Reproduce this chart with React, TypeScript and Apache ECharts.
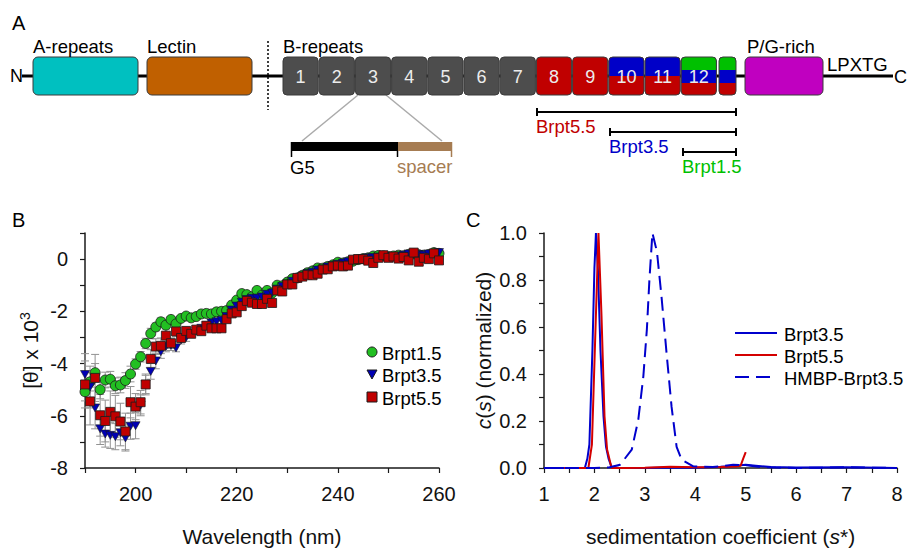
import React, { useEffect, useRef } from "react";
import * as echarts from "echarts";

// ---------- Panel B data (CD spectra) ----------
const wavelength = [
  190, 191, 192, 193, 194, 195, 196, 197, 198, 199, 200, 201, 202, 203, 204, 205, 206, 207, 208, 209,
  210, 211, 212, 213, 214, 215, 216, 217, 218, 219, 220, 221, 222, 223, 224, 225, 226, 227, 228, 229,
  230, 231, 232, 233, 234, 235, 236, 237, 238, 239, 240, 241, 242, 243, 244, 245, 246, 247, 248, 249,
  250, 251, 252, 253, 254, 255, 256, 257, 258, 259, 260,
];
const brpt15 = [
  -5.08, -4.7, -4.35, -5.0, -4.63, -4.6, -4.85, -4.82, -4.65, -4.4, -4.02, -3.74, -3.23, -2.85, -2.6, -2.4, -2.53, -2.31, -2.48, -2.27,
  -2.18, -2.25, -2.2, -2.1, -2.08, -2.1, -2.02, -2.0, -1.97, -1.76, -1.57, -1.32, -1.36, -1.44, -1.2, -1.38, -1.2, -1.3, -1.0, -1.02,
  -0.88, -0.75, -0.72, -0.62, -0.52, -0.45, -0.34, -0.35, -0.28, -0.22, -0.12, -0.15, -0.1, -0.08, -0.02, 0.02, 0.05, 0.12, 0.14, 0.12,
  0.1, 0.12, 0.15, 0.13, 0.18, 0.2, 0.17, 0.15, 0.18, 0.25, 0.22,
];
const brpt35 = [
  -4.42, -4.9, -5.7, -6.5, -6.7, -6.75, -6.8, -6.65, -6.85, -6.4, -6.38, -5.6, -4.8, -4.3, -3.9, -3.55, -3.35, -3.3, -3.4, -3.1,
  -3.0, -2.85, -2.75, -2.65, -2.55, -2.45, -2.4, -2.35, -2.2, -1.95, -1.8, -1.65, -1.55, -1.5, -1.5, -1.45, -1.35, -1.3, -1.15, -1.05,
  -0.95, -0.85, -0.75, -0.65, -0.55, -0.5, -0.42, -0.38, -0.3, -0.25, -0.2, -0.15, -0.1, -0.05, 0.0, 0.02, 0.05, 0.05, 0.08, 0.1,
  0.1, 0.1, 0.12, 0.15, 0.2, 0.2, 0.18, 0.15, 0.2, 0.22, 0.25,
];
const brpt55 = [
  -4.8, -5.45, -4.55, -5.98, -6.2, -5.85, -6.02, -6.22, -6.6, -5.48, -5.65, -5.48, -4.8, -3.82, -3.35, -3.32, -2.93, -3.22, -2.77, -3.02,
  -2.75, -2.86, -2.7, -2.76, -2.55, -2.65, -2.65, -2.65, -2.3, -2.08, -2.04, -1.8, -1.6, -1.67, -1.72, -1.72, -1.52, -1.68, -1.2, -1.24,
  -0.97, -0.97, -0.72, -0.67, -0.6, -0.62, -0.56, -0.4, -0.39, -0.28, -0.25, -0.28, -0.25, -0.02, 0.0, 0.0, -0.06, -0.15, 0.05, 0.15,
  0.05, 0.1, 0.02, 0.08, -0.05, 0.25, -0.1, 0.05, 0.0, 0.22, -0.05,
];
// error bars for the first wavelengths (190 … 213 nm)
const errBrpt15 = [0.35, 0.35, 0.35, 0.35, 0.3, 0.3, 0.3, 0.3, 0.3, 0.3, 0.2, 0.2, 0.2, 0.2, 0.15, 0.15, 0.1, 0.1, 0.1, 0.1, 0.1, 0.1, 0.1, 0.1];
const errBrpt35 = [0.8, 0.8, 0.8, 0.6, 0.5, 0.5, 0.5, 0.5, 0.5, 0.5, 0.5, 0.4, 0.35, 0.3, 0.3, 0.25, 0.2, 0.2, 0.15, 0.15, 0.15, 0.1, 0.1, 0.1];
const errBrpt55 = [0.9, 0.9, 0.9, 0.8, 0.8, 0.8, 0.8, 0.7, 0.7, 0.6, 0.5, 0.45, 0.4, 0.35, 0.3, 0.3, 0.25, 0.2, 0.2, 0.15, 0.15, 0.1, 0.1, 0.1];

// ---------- Panel C data (sedimentation) ----------
const sBrpt35 = [1, 1.5, 1.81, 1.86, 1.9, 1.96, 2.0, 2.03, 2.07, 2.12, 2.18, 2.23, 2.28, 2.34, 2.5, 3, 3.5, 4, 4.5, 4.8, 5.0, 5.2, 5.5, 6, 7, 8];
const cBrpt35 = [0, 0, 0, 0.04, 0.1, 0.5, 0.85, 1.0, 0.84, 0.5, 0.22, 0.09, 0.04, 0.004, 0, 0, 0.002, 0.001, 0.005, 0.01, 0.014, 0.01, 0.004, 0.002, 0.003, 0];
const sBrpt55 = [1.4, 1.8, 1.88, 1.95, 2.08, 2.14, 2.2, 2.25, 2.34, 2.6, 3.0, 3.5, 4.0, 4.5, 4.8, 4.9, 4.95, 5.0];
const cBrpt55 = [0, 0, 0, 0.1, 1.0, 0.65, 0.22, 0.08, 0, 0, 0.001, 0.005, 0.003, 0.004, 0.006, 0.01, 0.04, 0.068];
const sHmbp = [1, 2, 2.3, 2.51, 2.74, 2.87, 2.97, 3.04, 3.09, 3.15, 3.24, 3.33, 3.43, 3.53, 3.63, 3.73, 3.96, 4.35, 4.75, 5.02, 5.3, 5.6, 6, 7, 8];
const cHmbp = [0, 0, 0.003, 0.014, 0.078, 0.206, 0.39, 0.59, 0.8, 1.0, 0.92, 0.73, 0.49, 0.26, 0.09, 0.035, 0.007, 0.004, 0.014, 0.012, 0.004, 0.002, 0, 0.003, 0];

// ---------- Panel A labels ----------
const repeatNumbers = ["1", "2", "3", "4", "5", "6", "7", "8", "9", "10", "11", "12"];
const constructNames = ["Brpt5.5", "Brpt3.5", "Brpt1.5"];

const FONT = "'Liberation Sans', Arial, Helvetica, sans-serif";
const GREEN = "#22bf22";
const BLUE_M = "#0000b4";
const RED_M = "#c00000";
const C_BLUE = "#0000cd";
const C_RED = "#d40000";

function txt(text: string, x: number, y: number, size: number, fill = "#000", align = "left", extra: any = {}) {
  return {
    type: "text",
    z: 50,
    style: {
      text,
      x,
      y,
      fontSize: size,
      fontFamily: FONT,
      fill,
      textAlign: align,
      align,
      textVerticalAlign: "middle",
      verticalAlign: "middle",
      ...extra,
    },
  };
}
function ln(x1: number, y1: number, x2: number, y2: number, stroke = "#000", lineWidth = 1, extra: any = {}) {
  return { type: "line", z: 40, shape: { x1, y1, x2, y2 }, style: { stroke, lineWidth, ...extra } };
}
function rc(x: number, y: number, w: number, h: number, fill: string, r: any = 0, stroke: any = null, z = 41) {
  return { type: "rect", z, shape: { x, y, width: w, height: h, r }, style: { fill, stroke, lineWidth: stroke ? 1 : 0 } };
}

function buildPanelA() {
  const els: any[] = [];
  const top = 57, h = 38, mid = 76;
  els.push(txt("A", 12, 23, 20));
  // backbone
  els.push(ln(22, mid, 893, mid, "#000", 3));
  els.push(txt("N", 10, mid, 18));
  els.push(txt("C", 894, mid + 1, 18));
  // A-repeats, Lectin, P/G-rich
  const outline = "#3a3a3a";
  els.push(rc(33, top, 105, h, "#00c0c0", 5, outline));
  els.push(rc(147, top, 105, h, "#c06000", 5, outline));
  els.push(rc(745, top, 78, h, "#c000c0", 5, outline));
  els.push(txt("A-repeats", 33, 46, 18.5));
  els.push(txt("Lectin", 147, 46, 18.5));
  els.push(txt("B-repeats", 283, 46, 18.5));
  els.push(txt("P/G-rich", 747, 46, 18.5));
  els.push(txt("LPXTG", 827, 64, 18.5));
  // dotted separator
  els.push(ln(268, 41, 268, 110, "#000", 1.5, { lineDash: [2, 2] }));
  // B repeats
  const pitch = 36.2, bw = 35.2, x0 = 283;
  const boxes: { x: number; w: number; label: string; kind: string }[] = [];
  repeatNumbers.forEach((lab, i) => {
    const n = i + 1;
    const kind = n <= 7 ? "grey" : n <= 9 ? "red" : n <= 11 ? "blueRed" : "gbr";
    boxes.push({ x: x0 + i * pitch, w: bw, label: lab, kind });
  });
  boxes.push({ x: 719, w: 17, label: "", kind: "gbr" });
  boxes.forEach((b) => {
    const r = 4;
    if (b.kind === "grey") {
      els.push(rc(b.x, top, b.w, h, "#4d4d4d", r, outline));
    } else {
      els.push(rc(b.x, top, b.w, h, "#c00000", r, null));
      if (b.kind === "blueRed") {
        els.push(rc(b.x, top, b.w, mid - top, "#0000c8", [r, r, 0, 0], null, 42));
      } else if (b.kind === "gbr") {
        els.push(rc(b.x, top, b.w, 83 - top, "#0000c8", [r, r, 0, 0], null, 42));
        els.push(rc(b.x, top, b.w, 70 - top, "#00c000", [r, r, 0, 0], null, 43));
      }
      els.push({ type: "rect", z: 44, shape: { x: b.x, y: top, width: b.w, height: h, r }, style: { fill: "none", stroke: outline, lineWidth: 1 } });
    }
    if (b.label) els.push(txt(b.label, b.x + b.w / 2, mid + 1, 18, "#ececec", "center"));
  });
  // zoom of repeat 3
  els.push(ln(358, 95, 302, 141, "#aaaaaa", 1.5));
  els.push(ln(386, 95, 442, 141, "#aaaaaa", 1.5));
  els.push(rc(291, 142, 107, 9, "#000000", 0, null, 45));
  els.push(rc(398, 142, 54, 9, "#a67c52", 0, null, 45));
  els.push(ln(291.5, 142, 291.5, 157, "#000", 1.5));
  els.push(ln(397.5, 142, 397.5, 157, "#000", 1.5));
  els.push(ln(451.5, 142, 451.5, 157, "#a67c52", 1.5));
  els.push(txt("G5", 290, 167, 18.5));
  els.push(txt("spacer", 397, 166, 18.5, "#a67c52"));
  // construct bars
  const cons = [
    { x1: 537, y: 112, ty: 126, color: "#c00000" },
    { x1: 610, y: 132, ty: 146, color: "#0000c8" },
    { x1: 683, y: 152, ty: 166, color: "#00c000" },
  ];
  cons.forEach((c, i) => {
    els.push(ln(c.x1, c.y, 736, c.y, "#000", 2));
    els.push(ln(c.x1, c.y - 4, c.x1, c.y + 4, "#000", 2));
    els.push(ln(736, c.y - 4, 736, c.y + 4, "#000", 2));
    els.push(txt(constructNames[i], c.x1 - 1, c.ty, 18.5, c.color));
  });
  return els;
}

function buildLegends() {
  const els: any[] = [];
  els.push(txt("B", 12, 220, 20));
  els.push(txt("C", 466, 220, 20));
  // legend B
  const lx = 372;
  els.push({ type: "circle", z: 50, shape: { cx: lx, cy: 352, r: 5 }, style: { fill: GREEN, stroke: "#1a1a1a", lineWidth: 1 } });
  els.push({ type: "polygon", z: 50, shape: { points: [[lx - 5, 370], [lx + 5, 370], [lx, 379]] }, style: { fill: BLUE_M, stroke: "#1a1a1a", lineWidth: 1 } });
  els.push({ type: "rect", z: 50, shape: { x: lx - 5, y: 392, width: 10, height: 10 }, style: { fill: RED_M, stroke: "#1a1a1a", lineWidth: 1 } });
  els.push(txt("Brpt1.5", 382, 353, 18.5));
  els.push(txt("Brpt3.5", 382, 375, 18.5));
  els.push(txt("Brpt5.5", 382, 398, 18.5));
  // legend C
  els.push(ln(735, 333, 777, 333, C_BLUE, 2));
  els.push(ln(735, 355, 777, 355, C_RED, 2));
  els.push(ln(735, 377, 777, 377, C_BLUE, 2, { lineDash: [14, 7] }));
  els.push(txt("Brpt3.5", 784, 334, 18.5));
  els.push(txt("Brpt5.5", 784, 356, 18.5));
  els.push(txt("HMBP-Brpt3.5", 784, 378, 18.5));
  return els;
}

const zip = (a: number[], b: number[]) => a.map((v, i) => [v, b[i]]);
const errData = (vals: number[], errs: number[]) =>
  errs.map((e, i) => [wavelength[i], vals[i] - e, vals[i] + e]);

export default function App() {
  const ref = useRef<HTMLDivElement>(null);
  useEffect(() => {
    if (!ref.current) return;
    const chart = echarts.init(ref.current, null, { renderer: "svg" });
    const axisLine = { show: true, onZero: false, lineStyle: { color: "#1a1a1a", width: 1.5 } };
    const axisTick = { show: true, inside: false, length: 5, lineStyle: { color: "#1a1a1a", width: 1.2 } };
    const labelStyle = { fontSize: 20, fontFamily: FONT, color: "#111" };
    const nameStyle = { fontSize: 21, fontFamily: FONT, color: "#111" };

    const errRender = (params: any, api: any) => {
      const x = api.value(0);
      const a = api.coord([x, api.value(1)]);
      const b = api.coord([x, api.value(2)]);
      const style = { stroke: "#929292", lineWidth: 1 };
      return {
        type: "group",
        children: [
          { type: "line", shape: { x1: a[0], y1: a[1], x2: b[0], y2: b[1] }, style },
          { type: "line", shape: { x1: a[0] - 4, y1: a[1], x2: a[0] + 4, y2: a[1] }, style },
          { type: "line", shape: { x1: b[0] - 4, y1: b[1], x2: b[0] + 4, y2: b[1] }, style },
        ],
      };
    };

    const option: any = {
      animation: false,
      backgroundColor: "#ffffff",
      textStyle: { fontFamily: FONT },
      grid: [
        { left: 85, top: 233, width: 354, height: 235, containLabel: false },
        { left: 544, top: 233, width: 353, height: 235, containLabel: false },
      ],
      xAxis: [
        {
          gridIndex: 0, type: "value", min: 190, max: 260, interval: 10,
          axisLine, axisTick, splitLine: { show: false },
          axisLabel: { ...labelStyle, margin: 16, interval: 0, formatter: (v: number) => (v >= 200 && (v - 200) % 20 === 0 ? String(v) : "") },
          name: "Wavelength (nm)", nameLocation: "middle", nameGap: 58, nameTextStyle: nameStyle,
        },
        {
          gridIndex: 1, type: "value", min: 1, max: 8, interval: 0.5,
          axisLine, axisTick, splitLine: { show: false },
          axisLabel: { ...labelStyle, margin: 16, interval: 0, formatter: (v: number) => (Math.abs(v - Math.round(v)) < 1e-6 ? String(Math.round(v)) : "") },
          name: "sedimentation coefficient ({i|s}*)", nameLocation: "middle", nameGap: 58,
          nameTextStyle: { ...nameStyle, rich: { i: { ...nameStyle, fontStyle: "italic" } } },
        },
      ],
      yAxis: [
        {
          gridIndex: 0, type: "value", min: -8, max: 1, interval: 1,
          axisLine, axisTick, splitLine: { show: false },
          axisLabel: { ...labelStyle, margin: 17, interval: 0, formatter: (v: number) => (v <= 0 && Math.round(v) % 2 === 0 ? String(Math.round(v)) : "") },
          name: "[θ] x 10{sup|3}", nameLocation: "middle", nameGap: 43,
          nameTextStyle: { ...nameStyle, rich: { sup: { ...nameStyle, fontSize: 14, verticalAlign: "top", padding: [0, 0, 10, 0] } } },
        },
        {
          gridIndex: 1, type: "value", min: 0, max: 1, interval: 0.1,
          axisLine, axisTick, splitLine: { show: false },
          axisLabel: { ...labelStyle, margin: 17, interval: 0, formatter: (v: number) => (Math.round(v * 10) % 2 === 0 ? v.toFixed(1) : "") },
          name: "{i|c}({i|s}) (normalized)", nameLocation: "middle", nameGap: 50,
          nameTextStyle: { ...nameStyle, rich: { i: { ...nameStyle, fontStyle: "italic" } } },
        },
      ],
      series: [
        { type: "custom", name: "err15", xAxisIndex: 0, yAxisIndex: 0, z: 1, renderItem: errRender, encode: { x: 0, y: [1, 2] }, data: errData(brpt15, errBrpt15) },
        { type: "custom", name: "err35", xAxisIndex: 0, yAxisIndex: 0, z: 1, renderItem: errRender, encode: { x: 0, y: [1, 2] }, data: errData(brpt35, errBrpt35) },
        { type: "custom", name: "err55", xAxisIndex: 0, yAxisIndex: 0, z: 1, renderItem: errRender, encode: { x: 0, y: [1, 2] }, data: errData(brpt55, errBrpt55) },
        {
          type: "scatter", name: "Brpt1.5", xAxisIndex: 0, yAxisIndex: 0, z: 3, symbol: "circle", symbolSize: 10,
          itemStyle: { color: GREEN, borderColor: "#1a1a1a", borderWidth: 0.8, opacity: 1 }, data: zip(wavelength, brpt15),
        },
        {
          type: "scatter", name: "Brpt3.5", xAxisIndex: 0, yAxisIndex: 0, z: 4, symbol: "path://M0,0L10,0L5,9Z", symbolSize: [9, 8],
          itemStyle: { color: BLUE_M, borderColor: "#1a1a1a", borderWidth: 0.6, opacity: 1 }, data: zip(wavelength, brpt35),
        },
        {
          type: "scatter", name: "Brpt5.5", xAxisIndex: 0, yAxisIndex: 0, z: 5, symbol: "rect", symbolSize: 9,
          itemStyle: { color: RED_M, borderColor: "#1a1a1a", borderWidth: 0.8, opacity: 1 }, data: zip(wavelength, brpt55),
        },
        {
          type: "line", name: "Brpt3.5", xAxisIndex: 1, yAxisIndex: 1, z: 3, symbol: "none", smooth: false,
          lineStyle: { color: C_BLUE, width: 2 }, data: zip(sBrpt35, cBrpt35),
        },
        {
          type: "line", name: "Brpt5.5", xAxisIndex: 1, yAxisIndex: 1, z: 4, symbol: "none", smooth: false,
          lineStyle: { color: C_RED, width: 2 }, data: zip(sBrpt55, cBrpt55),
        },
        {
          type: "line", name: "HMBP-Brpt3.5", xAxisIndex: 1, yAxisIndex: 1, z: 5, symbol: "none", smooth: false,
          lineStyle: { color: C_BLUE, width: 2, type: [14, 7] }, data: zip(sHmbp, cHmbp),
        },
      ],
      graphic: { elements: [...buildPanelA(), ...buildLegends()] },
    };
    chart.setOption(option);
    return () => chart.dispose();
  }, []);
  return (
    <div
      ref={ref}
      style={{ position: "absolute", left: 0, top: 0, width: 907, height: 551, background: "#fff" }}
    />
  );
}
